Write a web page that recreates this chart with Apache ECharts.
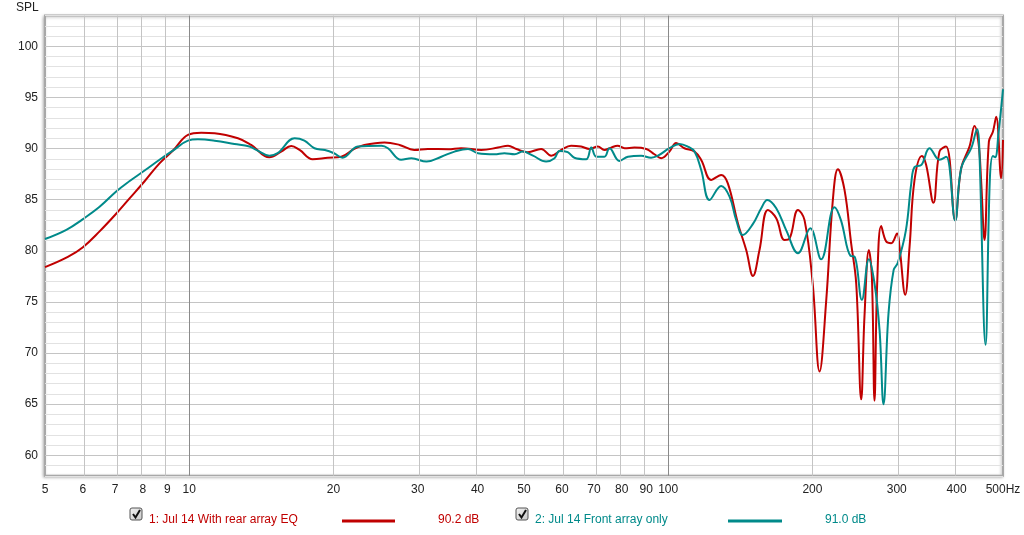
<!DOCTYPE html>
<html>
<head>
<meta charset="utf-8">
<script src="https://cdn.jsdelivr.net/npm/echarts@6/dist/echarts.min.js"></script>
<style>
html,body{margin:0;padding:0;background:#fff;}
#chart{width:1024px;height:535px;}
</style>
</head>
<body>
<div id="chart"></div>
<script>
// Tick labels (Hz) along the log frequency axis
const freqTicks = [5, 6, 7, 8, 9, 10, 20, 30, 40, 50, 60, 70, 80, 90, 100, 200, 300, 400, 500];
const majorFreqs = [10, 100];
const splLabels = [60, 65, 70, 75, 80, 85, 90, 95, 100];

// Series 1: Jul 14 With rear array EQ
const rearFreq = [5.0, 5.58, 6.0, 6.5, 7.0, 7.5, 8.07, 8.67, 9.25, 9.94, 10.6, 11.3, 12.64, 13.47, 14.7, 15.56, 16.33, 17.0, 18.1, 19.48, 20.77, 22.1, 23.2, 25.57, 27.5, 29.5, 31.5, 34.7, 36.96, 40.7, 44.1, 46.3, 48.2, 50.9, 54.3, 57.0, 59.8, 62.7, 65.8, 68.5, 71.3, 73.6, 76.0, 78.4, 81.1, 85.0, 90.0, 93.6, 96.7, 100.6, 103.9, 108.1, 113.5, 117.2, 123.0, 129.0, 133.2, 139.8, 145.5, 150.3, 155.1, 161.5, 168.1, 174.9, 179.2, 186.6, 192.6, 200.3, 207.0, 213.8, 220.7, 226.1, 233.4, 241.0, 246.9, 252.9, 256.9, 262.4, 266.2, 269.6, 273.1, 278.4, 285.2, 292.1, 300.6, 304.0, 312.5, 319.1, 326.8, 338.6, 345.6, 357.9, 368.4, 380.5, 397.3, 408.9, 425.6, 436.0, 444.5, 450.0, 457.4, 467.2, 476.3, 483.9, 495.6, 500.0];
const rearSpl = [78.4, 79.4, 80.35, 81.9, 83.5, 85.1, 86.8, 88.55, 89.8, 91.33, 91.55, 91.5, 91.0, 90.35, 89.15, 89.7, 90.25, 89.86, 88.95, 89.1, 89.2, 89.96, 90.35, 90.6, 90.35, 89.86, 89.96, 89.93, 90.03, 89.86, 90.09, 90.28, 89.96, 89.64, 89.96, 89.3, 89.86, 90.28, 90.19, 89.96, 90.19, 89.86, 90.09, 90.28, 90.03, 90.09, 89.96, 89.44, 89.05, 89.7, 90.55, 90.03, 89.7, 88.88, 86.93, 87.42, 86.6, 82.7, 80.08, 77.54, 80.08, 84.0, 83.18, 81.06, 81.2, 84.0, 83.0, 76.8, 68.2, 75.2, 85.0, 87.98, 85.95, 80.7, 76.8, 65.47, 73.56, 80.08, 77.47, 65.34, 76.8, 82.43, 80.9, 80.74, 81.7, 80.4, 75.7, 80.4, 86.93, 89.28, 88.4, 84.7, 89.7, 90.19, 83.0, 88.07, 90.19, 92.2, 90.52, 86.93, 81.06, 90.68, 91.65, 93.12, 87.1, 90.84];

// Series 2: Jul 14 Front array only
const frontFreq = [5.0, 5.54, 6.0, 6.5, 7.04, 7.5, 8.07, 8.67, 9.25, 9.94, 10.43, 11.3, 12.43, 13.36, 13.9, 14.7, 15.3, 16.6, 17.4, 18.26, 19.2, 20.06, 20.9, 22.5, 25.2, 26.0, 27.7, 29.1, 31.3, 33.6, 35.8, 38.2, 40.05, 43.4, 45.5, 47.8, 49.7, 52.2, 55.6, 57.9, 59.3, 61.7, 63.7, 67.4, 69.1, 70.75, 73.6, 75.4, 79.1, 82.4, 87.8, 92.1, 95.2, 100.6, 105.6, 109.9, 113.5, 117.2, 122.0, 129.0, 134.3, 138.7, 143.2, 150.3, 156.4, 161.0, 168.1, 176.4, 186.6, 198.0, 208.6, 222.4, 229.4, 240.2, 245.0, 253.7, 262.4, 269.6, 276.2, 281.5, 288.4, 295.6, 301.4, 313.5, 321.7, 326.8, 337.8, 351.2, 368.4, 380.5, 397.3, 409.0, 429.2, 441.7, 446.0, 459.7, 469.3, 476.3, 481.6, 489.3, 500.0];
const frontSpl = [81.15, 82.05, 83.1, 84.3, 85.8, 86.8, 87.85, 88.9, 89.8, 90.77, 90.9, 90.77, 90.45, 90.2, 89.8, 89.3, 89.55, 91.0, 90.77, 90.03, 89.86, 89.54, 89.1, 90.19, 90.28, 90.03, 88.9, 89.05, 88.72, 89.2, 89.7, 89.96, 89.54, 89.44, 89.54, 89.44, 89.7, 89.3, 88.72, 89.05, 89.77, 89.64, 89.1, 88.95, 90.09, 89.2, 89.2, 90.03, 88.79, 89.2, 89.3, 89.1, 89.3, 90.03, 90.45, 90.19, 89.7, 87.9, 84.97, 86.34, 85.3, 83.0, 81.55, 82.63, 84.16, 84.97, 84.16, 82.0, 79.76, 82.2, 79.17, 84.26, 83.0, 79.5, 79.43, 75.2, 79.17, 76.8, 72.26, 65.0, 73.9, 78.13, 78.8, 82.0, 86.6, 88.2, 88.4, 90.03, 88.9, 89.2, 82.95, 88.07, 90.03, 91.88, 90.19, 70.8, 86.93, 89.28, 89.15, 91.5, 95.8];

const legendNames = ['1: Jul 14 With rear array EQ', '2: Jul 14 Front array only'];
const legendLevels = ['90.2 dB', '91.0 dB'];

const RED = '#c00000';
const TEAL = '#008a8a';
const FONT = 'Liberation Sans, Arial, sans-serif';

const toPts = (fs, vs) => fs.map((f, i) => [Math.log10(f), vs[i]]);

const chart = echarts.init(document.getElementById('chart'), null, {renderer: 'canvas'});

const minorColor = '#e2e2e2', majorColor = '#c4c4c4';
// y ticks from 58 with interval 1 -> index 2 is 60 (major), period 5
const hColors = [minorColor, minorColor, majorColor, minorColor, minorColor];

const vLines = freqTicks.filter(f => f !== 5 && f !== 500).map(f => ({
  xAxis: Math.log10(f),
  lineStyle: {color: majorFreqs.includes(f) ? '#8a8a8a' : '#c4c4c4', width: 1, type: 'solid'}
}));

function checkbox(x, y) {
  return [
    {type: 'rect', shape: {x: x, y: y, width: 12, height: 12, r: 2},
     style: {fill: new echarts.graphic.LinearGradient(0, 0, 1, 1, [{offset: 0, color: '#f4f4f4'}, {offset: 1, color: '#c8c8c8'}]), stroke: '#555', lineWidth: 1}},
    {type: 'polyline', shape: {points: [[x + 3, y + 6], [x + 5.5, y + 9.5], [x + 10, y + 2]]},
     style: {stroke: '#111', lineWidth: 2, fill: null}}
  ];
}

const option = {
  animation: false,
  backgroundColor: '#fff',
  grid: {
    left: 45, right: 21, top: 15.6, bottom: 59.25,
    show: true, backgroundColor: '#fff',
    borderColor: '#a8a8a8', borderWidth: 2,
    shadowColor: 'rgba(0,0,0,0.25)', shadowBlur: 3, shadowOffsetX: -1, shadowOffsetY: 1,
    containLabel: false
  },
  xAxis: {
    type: 'value',
    min: Math.log10(5), max: Math.log10(500),
    axisLine: {show: false},
    axisTick: {show: false, customValues: freqTicks.map(f => Math.log10(f))},
    splitLine: {show: false},
    axisLabel: {
      customValues: freqTicks.map(f => Math.log10(f)),
      color: '#222', fontFamily: FONT, fontSize: 12, margin: 8,
      formatter: v => {
        const f = Math.round(Math.pow(10, v));
        return f === 500 ? '500Hz' : String(f);
      }
    }
  },
  yAxis: {
    type: 'value', min: 58, max: 103, interval: 1,
    axisLine: {show: false}, axisTick: {show: false},
    splitLine: {show: true, lineStyle: {color: hColors, width: 1}},
    axisLabel: {
      color: '#222', fontFamily: FONT, fontSize: 12, margin: 7,
      formatter: v => splLabels.includes(v) ? String(v) : ''
    }
  },
  graphic: [
    {type: 'text', left: 16, top: 2, style: {text: 'SPL', fill: '#222', font: '12px ' + FONT}},
    ...checkbox(130, 508),
    {type: 'text', x: 149, y: 514, style: {text: legendNames[0], fill: RED, font: '12px ' + FONT}},
    {type: 'line', shape: {x1: 342, y1: 521, x2: 395, y2: 521}, style: {stroke: RED, lineWidth: 3}},
    {type: 'text', x: 438, y: 514, style: {text: legendLevels[0], fill: RED, font: '12px ' + FONT}},
    ...checkbox(516, 508),
    {type: 'text', x: 535, y: 514, style: {text: legendNames[1], fill: TEAL, font: '12px ' + FONT}},
    {type: 'line', shape: {x1: 728, y1: 521, x2: 782, y2: 521}, style: {stroke: TEAL, lineWidth: 3}},
    {type: 'text', x: 825, y: 514, style: {text: legendLevels[1], fill: TEAL, font: '12px ' + FONT}}
  ],
  series: [
    {
      type: 'line', name: 'grid', data: [], z: 1, silent: true,
      markLine: {silent: true, symbol: ['none', 'none'], label: {show: false}, data: vLines, animation: false}
    },
    {
      type: 'line', name: legendNames[1], data: toPts(frontFreq, frontSpl), z: 3,
      showSymbol: false, smooth: 0.4,
      lineStyle: {color: TEAL, width: 2}, itemStyle: {color: TEAL}
    },
    {
      type: 'line', name: legendNames[0], data: toPts(rearFreq, rearSpl), z: 2,
      showSymbol: false, smooth: 0.4,
      lineStyle: {color: RED, width: 2}, itemStyle: {color: RED}
    }
  ]
};
chart.setOption(option);
</script>
</body>
</html>
